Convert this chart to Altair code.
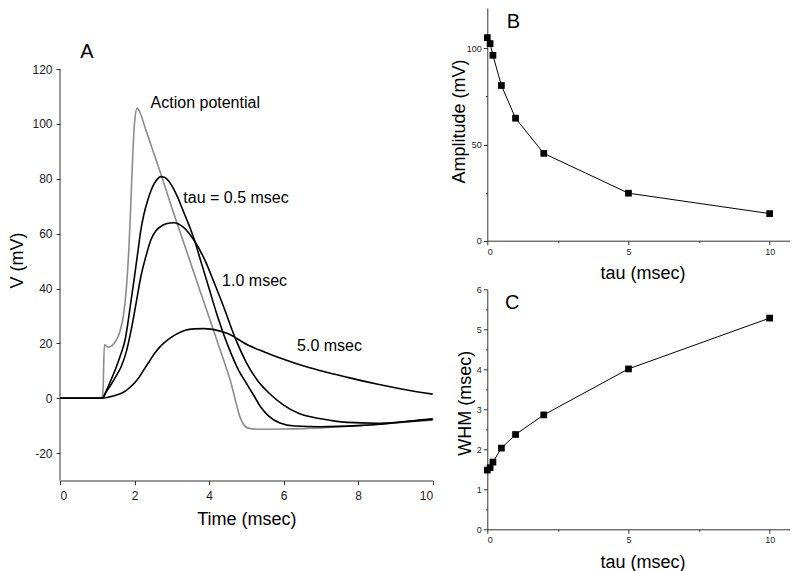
import altair as alt
import pandas as pd

# ---------------- Panel A data (time in msec, voltage in mV) ----------------
t_ap = [0, 1.10, 1.15, 1.19, 1.23, 1.30, 1.40, 1.50, 1.60, 1.70, 1.78, 1.85, 1.90, 1.95, 2.00, 2.07,
        2.15, 2.30, 2.50, 2.75, 3.00, 3.25, 3.50, 3.75, 4.00, 4.25, 4.45, 4.60, 4.72, 4.82, 4.92, 5.05,
        5.30, 6.00, 7.00, 8.00, 9.00, 10.0]
v_ap = [0, 0, 1.5, 19.5, 19.2, 18.6, 19.3, 21.0, 24.0, 30.0, 40.0, 55.0, 71.0, 88.0, 100.5, 105.8,
        104.0, 98.0, 90.0, 80.0, 69.5, 59.5, 49.5, 39.5, 29.5, 19.5, 11.5, 5.0, -1.5, -6.5, -9.5, -10.9,
        -11.3, -11.2, -10.8, -10.0, -9.0, -8.0]

t_05 = [0, 1.13, 1.25, 1.37, 1.50, 1.64, 1.75, 1.82, 1.90, 2.00, 2.10, 2.17, 2.25, 2.35, 2.45, 2.53,
        2.62, 2.70, 2.80, 2.90, 3.00, 3.15, 3.30, 3.45, 3.60, 3.80, 4.00, 4.20, 4.40, 4.60, 4.80, 5.00,
        5.20, 5.40, 5.60, 5.90, 6.30, 7.00, 8.00, 8.60, 9.30, 10.0]
v_05 = [0, 0, 3.0, 6.7, 11.0, 16.4, 21.5, 27.3, 35.0, 44.4, 54.5, 61.4, 67.0, 72.0, 76.0, 78.3,
        80.0, 80.8, 80.6, 79.5, 77.5, 73.5, 68.5, 63.5, 58.0, 49.0, 40.0, 31.0, 23.0, 16.0, 10.0, 5.5,
        1.0, -3.5, -6.5, -9.0, -10.1, -10.4, -10.0, -9.5, -8.5, -7.5]

t_10 = [0, 1.13, 1.25, 1.37, 1.50, 1.64, 1.78, 1.91, 2.04, 2.17, 2.30, 2.44, 2.57, 2.71, 2.85, 3.05,
        3.30, 3.60, 3.90, 4.14, 4.40, 4.70, 5.00, 5.30, 5.60, 6.00, 6.40, 7.00, 7.70, 8.50, 9.20, 10.0]
v_10 = [0, 0, 2.5, 5.0, 8.0, 11.5, 17.0, 24.9, 34.5, 44.4, 51.5, 57.8, 61.0, 62.7, 63.6, 64.0,
        62.5, 57.5, 50.0, 42.0, 33.0, 22.0, 13.0, 6.5, 2.0, -2.5, -5.5, -7.5, -8.8, -9.1, -8.6, -7.7]

t_50 = [0, 1.13, 1.30, 1.50, 1.65, 1.76, 1.88, 2.00, 2.13, 2.26, 2.40, 2.53, 2.70, 2.89, 3.10, 3.34,
        3.60, 3.85, 4.10, 4.50, 5.04, 5.50, 6.00, 6.50, 7.00, 7.72, 8.50, 9.20, 10.0]
v_50 = [0, 0, 0.4, 1.1, 1.8, 2.7, 4.0, 5.6, 7.8, 10.6, 13.5, 16.2, 19.0, 21.3, 23.2, 24.7,
        25.3, 25.4, 25.1, 23.6, 19.4, 16.8, 14.2, 11.9, 10.0, 7.6, 5.2, 3.3, 1.5]

series_names = ["Action potential", "tau 0.5", "tau 1.0", "tau 5.0"]
series_colors = ["#8c8c8c", "#000000", "#000000", "#000000"]

ann_labels = ["Action potential", "tau = 0.5 msec", "1.0 msec", "5.0 msec"]
ann_t = [2.43, 3.31, 4.35, 6.36]
ann_v = [107.5, 73.1, 42.8, 19.1]

# ---------------- Panels B and C data ----------------
tau = [0, 0.1, 0.2, 0.5, 1, 2, 5, 10]
amplitude = [105.6, 102.5, 96.4, 80.7, 63.7, 45.4, 24.7, 14.1]
whm = [1.48, 1.54, 1.68, 2.03, 2.37, 2.86, 4.01, 5.28]

# axis tick values
a_x_ticks = list(range(0, 11))
a_y_ticks = list(range(-20, 130, 10))
bc_x_ticks = [0, 2.5, 5, 7.5, 10]
b_y_ticks = [0, 25, 50, 75, 100]
c_y_ticks = [0, 0.5, 1, 1.5, 2, 2.5, 3, 3.5, 4, 4.5, 5, 5.5, 6]

# ---------------- build tables ----------------
rows = []
for name, ts, vs in zip(series_names, [t_ap, t_05, t_10, t_50], [v_ap, v_05, v_10, v_50]):
    for i, (t, v) in enumerate(zip(ts, vs)):
        rows.append({"series": name, "t": t, "V": v, "i": i})
df_a = pd.DataFrame(rows)
df_ann = pd.DataFrame({"label": ann_labels, "t": ann_t, "V": ann_v})
df_axis = pd.DataFrame({"V": [-30], "V2": [120]})
df_bc = pd.DataFrame({"tau": tau, "amp": amplitude, "whm": whm})

FONT = "Liberation Sans"
AX = "#333333"


def lab(step):
    # plain hyphen-minus labels, only on major ticks
    return ("datum.value %% %s === 0 ? (datum.value < 0 ? '-' + abs(datum.value) : '' + datum.value) : ''"
            % step)


# ---------------- Panel A ----------------
A_W, A_H = 372.7, 472.5
xa = alt.X("t:Q", scale=alt.Scale(domain=[0, 10], nice=False, zero=False),
           axis=alt.Axis(values=a_x_ticks, title="Time (msec)", labelExpr=lab(2),
                         tickSize={"condition": {"test": "datum.value % 2 !== 0", "value": 2.5}, "value": 4},
                         labelFontSize=12, labelPadding=6, titleFontSize=18, titlePadding=9,
                         labelAngle=0))
ya = alt.Y("V:Q", scale=alt.Scale(domain=[-30, 142.3], nice=False, zero=False),
           axis=alt.Axis(values=a_y_ticks, title="V (mV)", domain=False, labelExpr=lab(20),
                         tickSize={"condition": {"test": "datum.value % 20 !== 0", "value": 2.5}, "value": 4},
                         labelFontSize=12, labelPadding=4, titleFontSize=18, titlePadding=5.3,
                         titleY=252))

lines_a = alt.Chart(df_a).mark_line(strokeWidth=1.6, interpolate="monotone").encode(
    x=xa, y=ya,
    color=alt.Color("series:N", scale=alt.Scale(domain=series_names, range=series_colors), legend=None),
    order="i:Q",
)
axis_line_a = alt.Chart(df_axis).mark_rule(color=AX, strokeWidth=1).encode(
    x=alt.value(0), y="V:Q", y2="V2:Q")
ann_a = alt.Chart(df_ann).mark_text(align="left", baseline="middle", fontSize=16, font=FONT,
                                    color="black").encode(x="t:Q", y="V:Q", text="label:N")
letter_a = alt.Chart(pd.DataFrame({"s": ["A"]})).mark_text(
    align="center", baseline="alphabetic", fontSize=20, font=FONT, color="black").encode(
    x=alt.value(27), y=alt.value(50), text="s:N")

panel_a = alt.layer(lines_a, axis_line_a, ann_a, letter_a).properties(width=A_W, height=A_H)

# ---------------- Panels B & C ----------------
BC_W = 302.7
bc_x = alt.X("tau:Q", scale=alt.Scale(domain=[0, 10.72], nice=False, zero=False),
             axis=alt.Axis(values=bc_x_ticks, title="tau (msec)", labelExpr=lab(5),
                           tickSize={"condition": {"test": "datum.value % 5 !== 0", "value": 2}, "value": 4},
                           labelFontSize=9, labelPadding=2.5, titleFontSize=18, titlePadding=8.5,
                           titleX=155.3, labelAngle=0))

line_b = alt.Chart(df_bc).mark_line(
    color="black", strokeWidth=1,
    point=alt.OverlayMarkDef(shape="square", size=45, filled=True, color="black", opacity=1)).encode(
    x=bc_x,
    y=alt.Y("amp:Q", scale=alt.Scale(domain=[0, 121], nice=False, zero=False),
            axis=alt.Axis(values=b_y_ticks, title="Amplitude (mV)", labelExpr=lab(50),
                          tickSize={"condition": {"test": "datum.value % 50 !== 0", "value": 2}, "value": 4},
                          labelFontSize=9, labelPadding=2, titleFontSize=18, titleX=-19, titleY=113)),
)
letter_b = alt.Chart(pd.DataFrame({"s": ["B"]})).mark_text(
    align="center", baseline="alphabetic", fontSize=20, font=FONT, color="black").encode(
    x=alt.value(26), y=alt.value(20), text="s:N")
panel_b = alt.layer(line_b, letter_b).properties(width=BC_W, height=232.7)

line_c = alt.Chart(df_bc).mark_line(
    color="black", strokeWidth=1,
    point=alt.OverlayMarkDef(shape="square", size=45, filled=True, color="black", opacity=1)).encode(
    x=bc_x,
    y=alt.Y("whm:Q", scale=alt.Scale(domain=[0, 6], nice=False, zero=False),
            axis=alt.Axis(values=c_y_ticks, title="WHM (msec)", labelExpr=lab(1),
                          tickSize={"condition": {"test": "datum.value % 1 !== 0", "value": 2}, "value": 4},
                          labelFontSize=9, labelPadding=2, titleFontSize=18, titleX=-12.6, titleY=113.5)),
)
letter_c = alt.Chart(pd.DataFrame({"s": ["C"]})).mark_text(
    align="center", baseline="alphabetic", fontSize=20, font=FONT, color="black").encode(
    x=alt.value(25), y=alt.value(19.3), text="s:N")
panel_c = alt.layer(line_c, letter_c).properties(width=BC_W, height=240)

right = alt.vconcat(panel_b, panel_c, spacing=48.3, bounds="flush")
chart = alt.hconcat(panel_a, right, spacing=54.3, bounds="flush").properties(
    background="white", padding=0
).configure_view(
    stroke=None
).configure_axis(
    grid=False, labelFont=FONT, titleFont=FONT, titleFontWeight="normal",
    domainColor=AX, tickColor=AX, labelColor="#222222", titleColor="black",
    domainWidth=1, tickWidth=1,
)

chart.save("out.html", embed_options={"renderer": "svg", "actions": False})
